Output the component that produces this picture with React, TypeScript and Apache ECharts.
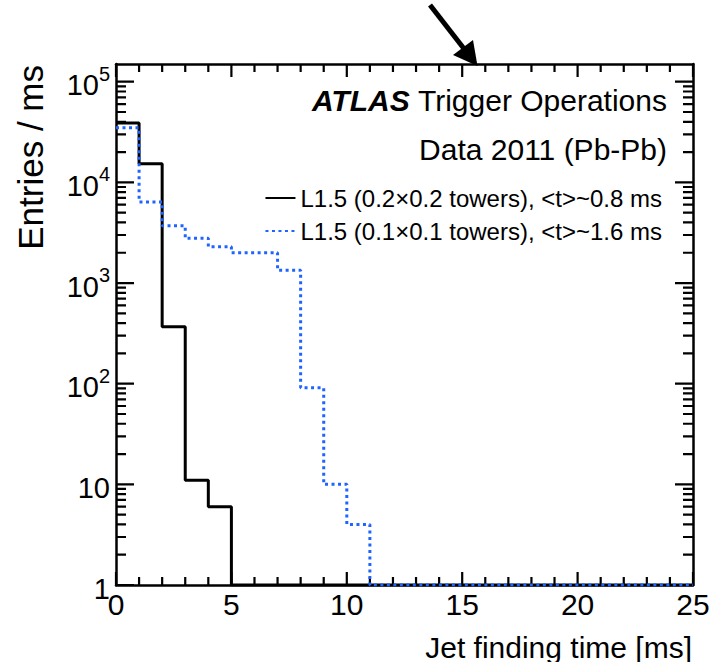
import React, { useEffect, useRef } from 'react';
import * as echarts from 'echarts';

const FF = '"Liberation Sans", Arial, Helvetica, sans-serif';

// Bin lower edges (ms), bin width 1 ms, range 0-25 ms
const binEdges = [0, 1, 2, 3, 4, 5, 6, 7, 8, 9, 10, 11, 12, 13, 14, 15, 16, 17, 18, 19, 20, 21, 22, 23, 24, 25];

// L1.5 (0.2x0.2 towers) – solid black
const coarseCounts = [39000, 15300, 367, 11, 6, 1, 1, 1, 1, 1, 1, 1, 1, 1, 1, 1, 1, 1, 1, 1, 1, 1, 1, 1, 1];
// L1.5 (0.1x0.1 towers) – dotted blue
const fineCounts = [34800, 6400, 3700, 2780, 2290, 2000, 2000, 1340, 91, 10, 4, 1, 1, 1, 1, 1, 1, 1, 1, 1, 1, 1, 1, 1, 1];

const seriesNames = [
  'L1.5 (0.2\u00d70.2 towers), <t>~0.8 ms',
  'L1.5 (0.1\u00d70.1 towers), <t>~1.6 ms',
];

const xMin = 0;
const xMax = 25;
const xMajorTicks = [0, 5, 10, 15, 20, 25];
const xMinorTicks = [1, 2, 3, 4, 6, 7, 8, 9, 11, 12, 13, 14, 16, 17, 18, 19, 21, 22, 23, 24];

const yMin = 1;
const yMax = 150000;
const yMajorTicks = [1, 10, 100, 1000, 10000, 100000];
const minorMultipliers = [2, 3, 4, 5, 6, 7, 8, 9];

const xTitle = 'Jet finding time [ms]';
const yTitle = 'Entries / ms';
const atlasLabel = 'ATLAS';
const atlasSub = ' Trigger Operations';
const dataLabel = 'Data 2011 (Pb-Pb)';

function stepData(counts: number[]) {
  const pts: [number, number][] = counts.map((c, i) => [binEdges[i], c]);
  pts.push([binEdges[binEdges.length - 1], counts[counts.length - 1]]);
  return pts;
}

export default function App() {
  const ref = useRef<HTMLDivElement>(null);
  useEffect(() => {
    if (!ref.current) return;
    const chart = echarts.init(ref.current, null, { renderer: 'svg' });

    const yMinorTicks: number[] = [];
    yMajorTicks.forEach((d) =>
      minorMultipliers.forEach((m) => {
        if (d * m < yMax) yMinorTicks.push(d * m);
      })
    );

    const textGraphics: any[] = [
      {
        type: 'text',
        x: 667,
        y: 100,
        style: {
          text: '{a|' + atlasLabel + '}{b|' + atlasSub + '}',
          align: 'right',
          verticalAlign: 'middle',
          rich: {
            a: { fontSize: 30, fontFamily: FF, fontWeight: 'bold', fontStyle: 'italic', fill: '#000' },
            b: { fontSize: 30, fontFamily: FF, fill: '#000' },
          },
        },
      },
      {
        type: 'text',
        x: 667,
        y: 149,
        style: { text: dataLabel, align: 'right', verticalAlign: 'middle', fontSize: 30, fontFamily: FF, fill: '#000' },
      },
      {
        type: 'text',
        x: 692,
        y: 647,
        style: { text: xTitle, align: 'right', verticalAlign: 'middle', fontSize: 30, fontFamily: FF, fill: '#000' },
      },
      {
        type: 'text',
        x: 30,
        y: 65,
        rotation: Math.PI / 2,
        style: { text: yTitle, align: 'right', verticalAlign: 'middle', fontSize: 35, fontFamily: FF, fill: '#000' },
      },
      {
        type: 'line',
        shape: { x1: 430, y1: 5, x2: 465, y2: 50 },
        style: { stroke: '#000', lineWidth: 5 },
      },
      {
        type: 'polygon',
        shape: { points: [[453, 55], [473, 40], [477.5, 66]] },
        style: { fill: '#000' },
      },
    ];

    const xAxisBase = {
      type: 'value',
      min: xMin,
      max: xMax,
      interval: 5,
      splitLine: { show: false },
      axisLine: { show: true, onZero: false, lineStyle: { color: '#000', width: 2.5 } },
      axisTick: { show: false },
      minorTick: { show: false },
    };
    const yAxisBase = {
      type: 'log',
      logBase: 10,
      min: yMin,
      max: yMax,
      splitLine: { show: false },
      axisLine: { show: true, onZero: false, lineStyle: { color: '#000', width: 2.5 } },
      axisTick: { show: false },
      minorTick: { show: false },
    };

    const histSeries: any[] = [
      {
        type: 'line',
        name: seriesNames[0],
        step: 'end',
        symbol: 'none',
        showSymbol: false,
        z: 3,
        data: stepData(coarseCounts),
        lineStyle: { color: '#000', width: 3, type: 'solid' },
        itemStyle: { color: '#000' },
      },
      {
        type: 'line',
        name: seriesNames[1],
        step: 'end',
        symbol: 'none',
        showSymbol: false,
        z: 4,
        data: stepData(fineCounts),
        lineStyle: { color: '#1e64ff', width: 3, type: [3, 3.5], cap: 'butt' },
        itemStyle: { color: '#1e64ff' },
      },
    ];

    const option: any = {
      animation: false,
      grid: { left: 116, right: 16, top: 64, bottom: 77, outerBoundsMode: 'none' },
      xAxis: [
        {
          ...xAxisBase,
          position: 'bottom',
          axisLabel: { show: true, fontSize: 30, fontFamily: FF, color: '#000', margin: 4 },
        },
        { ...xAxisBase, position: 'top', axisLabel: { show: false } },
      ],
      yAxis: [
        {
          ...yAxisBase,
          position: 'left',
          axisLabel: {
            show: true,
            margin: 6,
            color: '#000',
            fontFamily: FF,
            formatter: (v: number) => {
              const l = Math.log10(v);
              const e = Math.round(l);
              if (Math.abs(l - e) > 1e-6) return '';
              if (e === 0) return '{b|1}';
              if (e === 1) return '{b|10}';
              return '{b|10}{s|' + e + '}';
            },
            rich: {
              b: { fontSize: 29, fontFamily: FF, color: '#000', lineHeight: 36, verticalAlign: 'bottom' },
              s: { fontSize: 20, fontFamily: FF, color: '#000', lineHeight: 36, verticalAlign: 'top' },
            },
          },
        },
        { ...yAxisBase, position: 'right', axisLabel: { show: false } },
      ],
      legend: {
        show: true,
        orient: 'vertical',
        right: 42,
        top: 181,
        align: 'left',
        itemWidth: 30,
        itemHeight: 14,
        itemGap: 9,
        itemStyle: { opacity: 0 },
        textStyle: { fontSize: 24, fontFamily: FF, color: '#000' },
        data: seriesNames,
      },
      series: histSeries,
      graphic: textGraphics,
    };

    chart.setOption(option);

    // Tick marks on all four sides as a broken line series, placed through the chart's scales
    const toPx = (x: number, y: number) => chart.convertToPixel({ gridIndex: 0 }, [x, y]) as number[];
    const toVal = (px: number, py: number) => chart.convertFromPixel({ gridIndex: 0 }, [px, py]) as number[];
    const tickPts: any[] = [];
    const seg = (a: number[], b: number[]) => {
      tickPts.push(a, b, null);
    };
    const addX = (xv: number, L: number) => {
      const pB = toPx(xv, yMin);
      const pT = toPx(xv, yMax);
      seg([xv, yMin], [xv, toVal(pB[0], pB[1] - L)[1]]);
      seg([xv, yMax], [xv, toVal(pT[0], pT[1] + L)[1]]);
    };
    const addY = (yv: number, L: number) => {
      const pL = toPx(xMin, yv);
      const pR = toPx(xMax, yv);
      seg([xMin, yv], [toVal(pL[0] + L, pL[1])[0], yv]);
      seg([xMax, yv], [toVal(pR[0] - L, pR[1])[0], yv]);
    };
    xMajorTicks.forEach((x) => addX(x, 13));
    xMinorTicks.forEach((x) => addX(x, 8));
    yMajorTicks.forEach((y) => addY(y, 18));
    yMinorTicks.forEach((y) => addY(y, 10));

    chart.setOption({
      series: [
        ...histSeries,
        {
          type: 'line',
          name: 'ticks',
          symbol: 'none',
          showSymbol: false,
          silent: true,
          clip: false,
          connectNulls: false,
          z: 2,
          data: tickPts,
          lineStyle: { color: '#000', width: 2.2, cap: 'butt' },
          itemStyle: { color: '#000' },
        },
      ],
    });

    return () => chart.dispose();
  }, []);

  return <div ref={ref} style={{ width: 709, height: 662, position: 'absolute', left: 0, top: 0, background: '#fff' }} />;
}
